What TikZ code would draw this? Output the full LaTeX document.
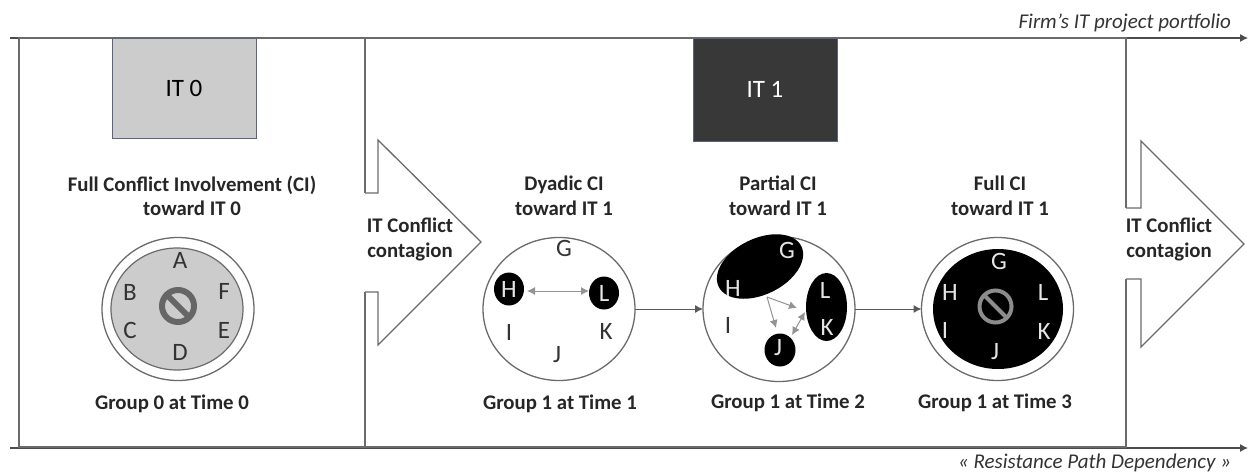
\documentclass[tikz,border=0pt]{standalone}
\usepackage{fontspec}
\setmainfont{Carlito}
\usetikzlibrary{arrows.meta,shapes.geometric}
\definecolor{ln}{gray}{0.42}
\definecolor{gdisc}{gray}{0.80}
\definecolor{slate}{rgb}{0.36,0.39,0.50}
\tikzset{
  x=1pt,y=-1pt,
  every node/.style={inner sep=0pt,outer sep=0pt},
  captxt/.style={font=\fontsize{20.8}{24.5}\selectfont\bfseries,align=center,text=black!85},
  let/.style={font=\fontsize{25}{27}\selectfont,text=black!80},
  wlet/.style={font=\fontsize{25}{27}\selectfont,text=white!90!black},
  ring/.style={ellipse,draw=ln,line width=1.3pt,fill=white,minimum width=152pt,minimum height=143pt},
  blob/.style={ellipse,fill=black,minimum width=#1,minimum height=33pt},
  frameline/.style={draw=ln,line width=1.4pt},
  timeline/.style={draw=black!70,line width=1.1pt,-{Latex[length=8pt,width=8pt]}},
  link/.style={draw=black!65,line width=1pt,-{Latex[length=8pt,width=8pt]}},
  glink/.style={draw=gray!85,line width=1pt,-{Latex[length=8pt,width=8pt]}},
  dlink/.style={draw=gray!85,line width=1pt,{Latex[length=8pt,width=8pt]}-{Latex[length=8pt,width=8pt]}},
  bigarrow/.style={draw=ln,line width=1.3pt,fill=white},
  note/.style={font=\fontsize{21}{24}\selectfont\itshape,text=black!80},
  itbox/.style={draw=slate,line width=1pt,minimum width=144pt,minimum height=100pt,font=\fontsize{25}{27}\selectfont}
}
\begin{document}
\begin{tikzpicture}
\useasboundingbox (0,0) rectangle (1249,472);
\coordinate (tl) at (10,38); \coordinate (tr) at (1248,38);
\coordinate (bl) at (10,448); \coordinate (br) at (1248,448);
\draw[timeline] (tl) -- (tr);
\draw[timeline] (bl) -- (br);
\draw[frameline] (19,38) rectangle (365,447);
\draw[frameline] (365,38) -- (1126,38) -- (1126,447) -- (365,447);
\node[itbox,fill=gdisc] (it0) at (184,88) {IT 0};
\node[itbox,fill=black!78,text=white,minimum height=103pt] (it1) at (765,89.5) {IT 1};
\node[note,anchor=east] (firm) at (1231,23) {Firm’s IT project portfolio};
\node[note,anchor=east] (res) at (1231,463) {« Resistance Path Dependency »};
% big arrows
\fill[white] (363,193) rectangle (378,292);
\fill[white] (1124,208) rectangle (1141,279);
\draw[bigarrow] (365,193) -- (378,193) -- (378,140) -- (481,242) -- (378,345) -- (378,292) -- (365,292);
\draw[bigarrow] (1126,208) -- (1141,208) -- (1141,141) -- (1244,244) -- (1141,347) -- (1141,279) -- (1126,279);
\node[captxt] (c1) at (410,239.5) {IT Conflict\\contagion};
\node[captxt] (c2) at (1169,239.5) {IT Conflict\\contagion};
% captions
\node[captxt] (t0) at (192,196) {Full Conflict Involvement (CI)\\toward IT 0};
\node[captxt] (t1) at (564,196) {Dyadic CI\\toward IT 1};
\node[captxt] (t2) at (778,196) {Partial CI\\toward IT 1};
\node[captxt] (t3) at (1000,196) {Full CI\\toward IT 1};
\node[captxt] (g0) at (172,404) {Group 0 at Time 0};
\node[captxt] (g1) at (560,404) {Group 1 at Time 1};
\node[captxt] (g2) at (788,403) {Group 1 at Time 2};
\node[captxt] (g3) at (995,403) {Group 1 at Time 3};
% group 0
\node[ring] (r0) at (178,309) {};
\node[ellipse,draw=ln,line width=1.2pt,fill=gdisc,minimum width=132pt,minimum height=122pt] (d0) at (177,309) {};
\node[circle,draw=black!60,line width=6pt,fill=gray!40,minimum size=32pt] (s0) at (178,306) {};
\draw[black!60,line width=6pt] (s0.north west) -- (s0.south east);
\node[let] (a0) at (180,260) {A};
\node[let] (b0) at (130,292) {B};
\node[let] (c0) at (130,330) {C};
\node[let] (d0l) at (180,352) {D};
\node[let] (e0) at (224,330) {E};
\node[let] (f0) at (224,291) {F};
% group 1
\node[ring] (r1) at (559,309) {};
\node[blob=30pt] (h1) at (509,289) {};
\node[blob=30pt] (l1) at (604,293) {};
\coordinate (ha) at (527,291);
\coordinate (la) at (589,291);
\draw[dlink] (ha) -- (la);
\node[let] (g1l) at (564,248) {G};
\node[wlet] (h1l) at (509,289) {H};
\node[wlet] (l1l) at (604,293) {L};
\node[let] (i1) at (509,332) {I};
\node[let] (k1) at (606,331) {K};
\node[let] (j1) at (557,355) {J};
% group 2
\node[ring,minimum height=145pt] (r2) at (779,309) {};
\node[ellipse,fill=black,minimum width=92pt,minimum height=56pt,rotate=26] (e2) at (760,266.5) {};
\node[ellipse,fill=black,minimum width=41pt,minimum height=68pt] (e3) at (826.5,307) {};
\node[blob=31pt] (j2) at (780,350) {};
\coordinate (f1) at (767,297);
\coordinate (f2) at (797,308);
\coordinate (f3) at (776,328);
\coordinate (f4) at (805,312);
\coordinate (f5) at (792,335);
\draw[glink] (f1) -- (f2);
\draw[glink] (f1) -- (f3);
\draw[dlink] (f4) -- (f5);
\node[wlet] (g2l) at (787,250) {G};
\node[wlet] (h2l) at (733,288) {H};
\node[let] (i2) at (728,325) {I};
\node[wlet] (l2l) at (825,290) {L};
\node[wlet] (k2) at (827,327) {K};
\node[wlet] (j2l) at (778,348) {J};
% group 3
\node[ring] (r3) at (997.5,309) {};
\node[ellipse,fill=black,minimum width=130pt,minimum height=120pt] (d3) at (998,309) {};
\node[circle,draw=gray!90,line width=4pt,minimum size=32pt] (s3) at (995.5,306.5) {};
\draw[gray!90,line width=4pt] (s3.north west) -- (s3.south east);
\node[wlet] (g3l) at (999,261) {G};
\node[wlet] (h3l) at (950,292) {H};
\node[wlet] (l3l) at (1043,292) {L};
\node[wlet] (i3) at (945,330) {I};
\node[wlet] (k3) at (1044,331) {K};
\node[wlet] (j3) at (995,352) {J};
% links
\draw[link] (r1) -- (r2);
\draw[link] (r2) -- (r3);
\end{tikzpicture}
\end{document}
